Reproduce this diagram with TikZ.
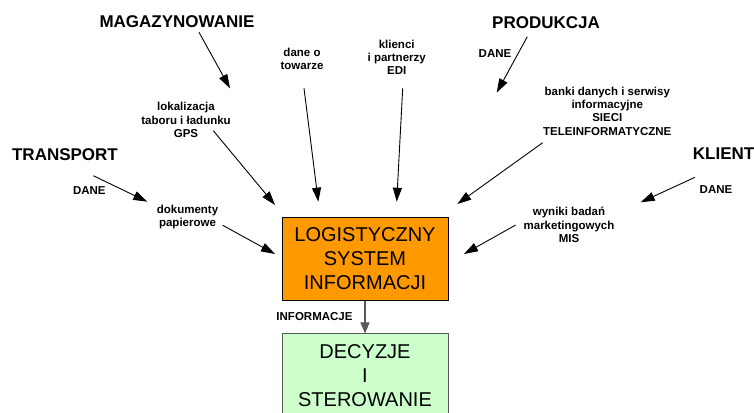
\documentclass[tikz,border=0pt]{standalone}
\usepackage{fontspec}
\setmainfont{Liberation Sans}
\usetikzlibrary{arrows.meta}
\definecolor{boxorange}{HTML}{FF9900}
\definecolor{boxgreen}{HTML}{CCFFCC}
\begin{document}
\begin{tikzpicture}[x=1pt,y=1pt,
  area/.style={font=\fontsize{17}{20}\selectfont\bfseries, inner sep=0pt},
  note/.style={font=\fontsize{11.5}{13.3}\selectfont\bfseries, align=center, inner sep=0pt},
  flow/.style={-{Triangle[length=14pt,width=9pt]}, line width=0.9pt, black},
  bigbox/.style={minimum width=166pt, minimum height=83pt, inner sep=0pt, align=center,
    font=\fontsize{20}{24}\selectfont, line width=1pt}]
\clip (0,0) rectangle (754,412);

% main boxes
\node[bigbox, draw=black, fill=boxorange] (lis) at (365,153.3) {LOGISTYCZNY\\SYSTEM\\INFORMACJI};
\node[bigbox, draw=black!65, fill=boxgreen] (dec) at (365,36.5) {DECYZJE\\I\\STEROWANIE};
\draw[-{Triangle[length=11pt,width=9pt]}, line width=1.2pt, black!65] (lis.south) -- (dec.north);
\node[note, anchor=east] (info) at (352.7,95) {INFORMACJE};

% source areas
\node[area] (mag) at (177,390) {MAGAZYNOWANIE};
\node[area] (tra) at (65,257) {TRANSPORT};
\node[area] (pro) at (546,389.3) {PRODUKCJA};
\node[area, anchor=west] (kli) at (692.7,258) {KLIENT};

% information channels
\node[note] (tow) at (302,352.8) {dane o\\towarze};
\node[note] (lok) at (186,292) {lokalizacja\\taboru i ładunku\\GPS};
\node[note] (dok) at (187.5,195) {dokumenty\\papierowe};
\node[note] (daneT) at (89.3,221.3) {DANE};
\node[note] (edi) at (396.7,354.5) {klienci\\i partnerzy\\EDI};
\node[note] (daneP) at (495,358) {DANE};
\node[note] (ban) at (607.3,300.8) {banki danych i serwisy\\informacyjne\\SIECI\\TELEINFORMATYCZNE};
\node[note] (daneK) at (716,222) {DANE};
\node[note] (wyn) at (569,187) {wyniki badań\\marketingowych\\MIS};

% arrow end points
\coordinate (m1) at (199,379.7);   \coordinate (m2) at (230,323.7);
\coordinate (l1) at (213.3,281.3); \coordinate (l2) at (275,207);
\coordinate (t1) at (304,323.7);   \coordinate (t2) at (318.3,210.3);
\coordinate (r1) at (93.3,236.3);  \coordinate (r2) at (147.3,210.3);
\coordinate (d1) at (222.7,186.7); \coordinate (d2) at (275,158);
\coordinate (e1) at (402.7,323.7); \coordinate (e2) at (396.7,210.3);
\coordinate (p1) at (527.3,375.3); \coordinate (p2) at (496.7,319.3);
\coordinate (b1) at (542.7,269.3); \coordinate (b2) at (457.3,208);
\coordinate (k1) at (695,234.7);   \coordinate (k2) at (640.7,209.7);
\coordinate (w1) at (515.7,187);   \coordinate (w2) at (464,158);

\draw[flow] (m1) -- (m2);
\draw[flow] (l1) -- (l2);
\draw[flow] (t1) -- (t2);
\draw[flow] (r1) -- (r2);
\draw[flow] (d1) -- (d2);
\draw[flow] (e1) -- (e2);
\draw[flow] (p1) -- (p2);
\draw[flow] (b1) -- (b2);
\draw[flow] (k1) -- (k2);
\draw[flow] (w1) -- (w2);
\end{tikzpicture}
\end{document}
